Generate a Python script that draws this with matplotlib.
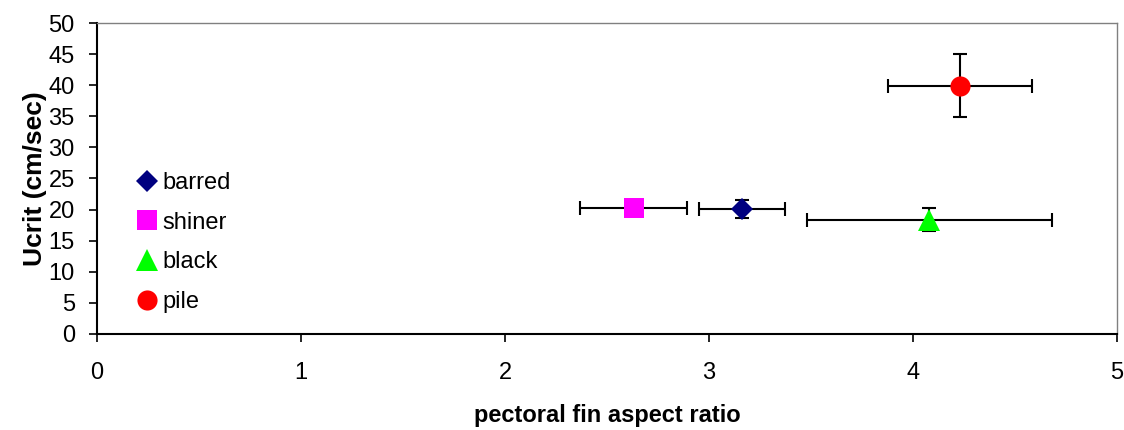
import matplotlib
matplotlib.use("Agg")
import matplotlib.pyplot as plt

plt.rcParams['font.family'] = ['Liberation Sans', 'DejaVu Sans']

names = ["barred", "shiner", "black", "pile"]
x_vals = [3.16, 2.63, 4.08, 4.23]
y_vals = [20.1, 20.3, 18.3, 39.9]
x_err = [0.21, 0.26, 0.60, 0.355]
y_err_low = [1.45, 0.0, 1.7, 5.05]
y_err_high = [1.45, 0.0, 2.0, 5.05]
markers = ["D", "s", "^", "o"]
colors = ["#000080", "#FF00FF", "#00FF00", "#FF0000"]
msizes = [11, 14.5, 16.5, 14.5]

fig = plt.figure(figsize=(11.24, 4.30), dpi=100)
ax = fig.add_axes([0.0863, 0.2233, 0.9075, 0.7232])

for xv, yv, xe, yl, yh in zip(x_vals, y_vals, x_err, y_err_low, y_err_high):
    ye = [[yl], [yh]] if (yl > 0 or yh > 0) else None
    ax.errorbar(xv, yv, xerr=xe, yerr=ye, fmt='none',
                ecolor='black', elinewidth=1.5, capsize=4.7, capthick=1.5, zorder=2)
for n, xv, yv, m, c, s in zip(names, x_vals, y_vals, markers, colors, msizes):
    ax.plot([xv], [yv], linestyle='none', marker=m, color=c, markersize=s,
            markeredgewidth=0, label=n, zorder=3)

ax.set_xlim(0, 5)
ax.set_ylim(0, 50)
ax.set_xticks(range(0, 6))
ax.set_yticks(range(0, 51, 5))
ax.tick_params(axis='both', direction='out', length=6, width=1.2, labelsize=17)
ax.tick_params(axis='x', pad=14)
ax.tick_params(axis='y', pad=10)
for side in ['left', 'bottom']:
    ax.spines[side].set_color('black')
    ax.spines[side].set_linewidth(1.5)
for side in ['top', 'right']:
    ax.spines[side].set_color('#808080')
    ax.spines[side].set_linewidth(1.0)

ax.set_xlabel("pectoral fin aspect ratio", fontsize=17, fontweight='bold', labelpad=14.5)
ax.set_ylabel("Ucrit (cm/sec)", fontsize=19, fontweight='bold', labelpad=1)

leg = ax.legend(loc='upper left', bbox_to_anchor=(0.024, 0.574), frameon=False,
                fontsize=17, handlelength=0.8, handletextpad=0.25, labelspacing=0.75,
                borderpad=0.2)

fig.savefig("out.png", dpi=100)
